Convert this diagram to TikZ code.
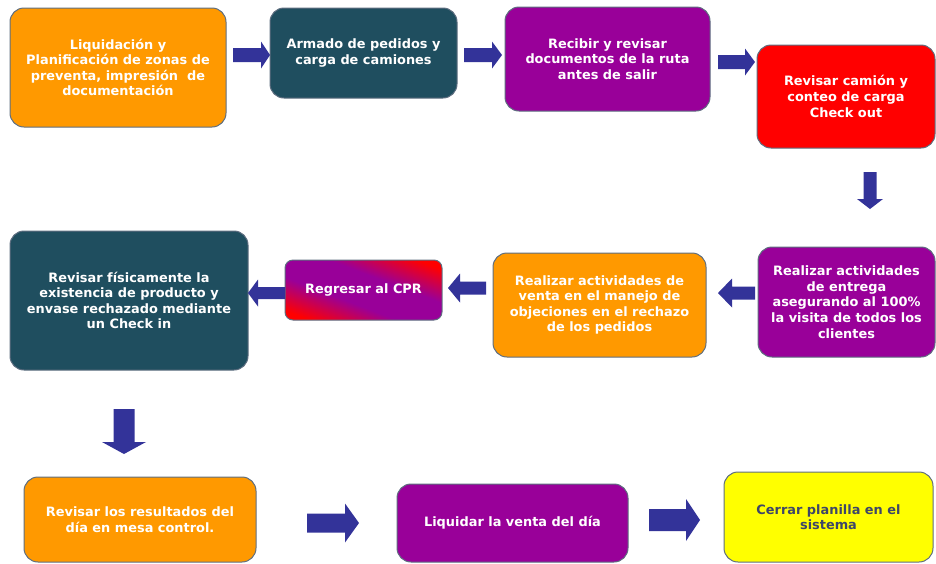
\documentclass[tikz,border=0pt]{standalone}
\usepackage{fontspec}
\setmainfont{DejaVu Sans}
\usetikzlibrary{shapes.geometric}

\definecolor{boxorange}{HTML}{FF9900}
\definecolor{boxteal}{HTML}{1F4E5F}
\definecolor{boxpurple}{HTML}{990099}
\definecolor{boxred}{HTML}{FF0000}
\definecolor{boxyellow}{HTML}{FFFF00}
\definecolor{boxedge}{HTML}{5E6E80}
\definecolor{arrowblue}{HTML}{333399}
\definecolor{darktext}{HTML}{3E4668}

% red at both ends, a broad purple band across the middle
\pgfdeclareverticalshading{cprgrad}{100bp}{color(0bp)=(boxred); color(20bp)=(boxred);
  color(40bp)=(boxpurple); color(60bp)=(boxpurple); color(80bp)=(boxred); color(100bp)=(boxred)}

% block arrows: tail x, head-base x, tip x, centre y, half body, half head
\newcommand\rightblock[6]{%
  \fill[arrowblue] (#1,#4-#5) -- (#2,#4-#5) -- (#2,#4-#6) -- (#3,#4)
    -- (#2,#4+#6) -- (#2,#4+#5) -- (#1,#4+#5) -- cycle;}
% down arrows: centre x, tail y, head-base y, tip y, half body, half head
\newcommand\downblock[6]{%
  \fill[arrowblue] (#1-#5,#2) -- (#1-#5,#3) -- (#1-#6,#3) -- (#1,#4)
    -- (#1+#6,#3) -- (#1+#5,#3) -- (#1+#5,#2) -- cycle;}

\tikzset{
  stepbox/.style={draw=boxedge, line width=1pt, rounded corners=14pt,
    align=center, text=white, inner sep=2pt,
    font=\fontsize{12.9}{15.6}\selectfont\bfseries},
}

\begin{document}
\begin{tikzpicture}[x=1pt, y=-1pt]
\useasboundingbox (0,0) rectangle (936,563);

% first row
\node[stepbox, fill=boxorange, minimum width=216, minimum height=119] (liq) at (118,67.5)
  {Liquidación y\\Planificación de zonas de\\preventa, impresión~ de\\documentación};
\node[stepbox, fill=boxteal, minimum width=187, minimum height=90] (arm) at (363.5,53)
  {Armado de pedidos y\\carga de camiones};
\node[stepbox, fill=boxpurple, minimum width=205, minimum height=104] (rec) at (607.5,59)
  {Recibir y revisar\\documentos de la ruta\\antes de salir};
\node[stepbox, fill=boxred, minimum width=178, minimum height=103] (cam) at (846,96.5)
  {Revisar camión y\\conteo de carga\\Check out};

% second row
\node[stepbox, fill=boxpurple, minimum width=177, minimum height=110] (ent) at (846.5,302)
  {Realizar actividades\\de entrega\\asegurando al 100\%\\la visita de todos los\\clientes};
\node[stepbox, fill=boxorange, minimum width=213, minimum height=104] (ven) at (599.5,305)
  {Realizar actividades de\\venta en el manejo de\\objeciones en el rechazo\\de los pedidos};

% diagonal red-purple-red gradient behind the "Regresar al CPR" box:
% shaded on a square, then stretched to the box so the band follows its diagonal
\coordinate (cprc) at (363.5,290);
\begin{scope}
  \clip[rounded corners=8pt] (285,260) rectangle (442,320);
  \begin{scope}[transform canvas={shift={(cprc)}, xscale=157/60}]
    \shade[shading=cprgrad, shading angle=135] (-30,-30) rectangle (30,30);
  \end{scope}
\end{scope}
\node[stepbox, rounded corners=8pt, minimum width=157, minimum height=60] (cpr) at (cprc)
  {Regresar al CPR};

\node[stepbox, fill=boxteal, minimum width=238, minimum height=139] (chk) at (129,300.5)
  {Revisar físicamente la\\existencia de producto y\\envase rechazado mediante\\un Check in};

% third row
\node[stepbox, fill=boxorange, minimum width=232, minimum height=85] (res) at (140,519.5)
  {Revisar los resultados del\\día en mesa control.};
\node[stepbox, fill=boxpurple, minimum width=231, minimum height=78] (liqv) at (512.5,523)
  {Liquidar la venta del día};
\node[stepbox, fill=boxyellow, text=darktext, minimum width=209, minimum height=90] (cer) at (828.5,517)
  {Cerrar planilla en el\\sistema};

% block arrows between the steps
\rightblock{233}{261}{270}{55}{7}{13.5}
\rightblock{464}{492}{502}{55}{7}{13.5}
\rightblock{718}{745}{755}{62}{7}{13.5}
\downblock{870}{172}{199}{209}{6.5}{13}
\rightblock{755}{732}{718}{293}{6.5}{14.5}
\rightblock{486}{460}{448}{288}{6.5}{14.5}
\rightblock{285}{258}{248}{293}{6}{13.5}
\downblock{124}{409}{442}{454}{10.5}{22}
\rightblock{307}{345}{359}{523}{9.5}{19.5}
\rightblock{649}{686}{700}{520}{11}{21}
\end{tikzpicture}
\end{document}
